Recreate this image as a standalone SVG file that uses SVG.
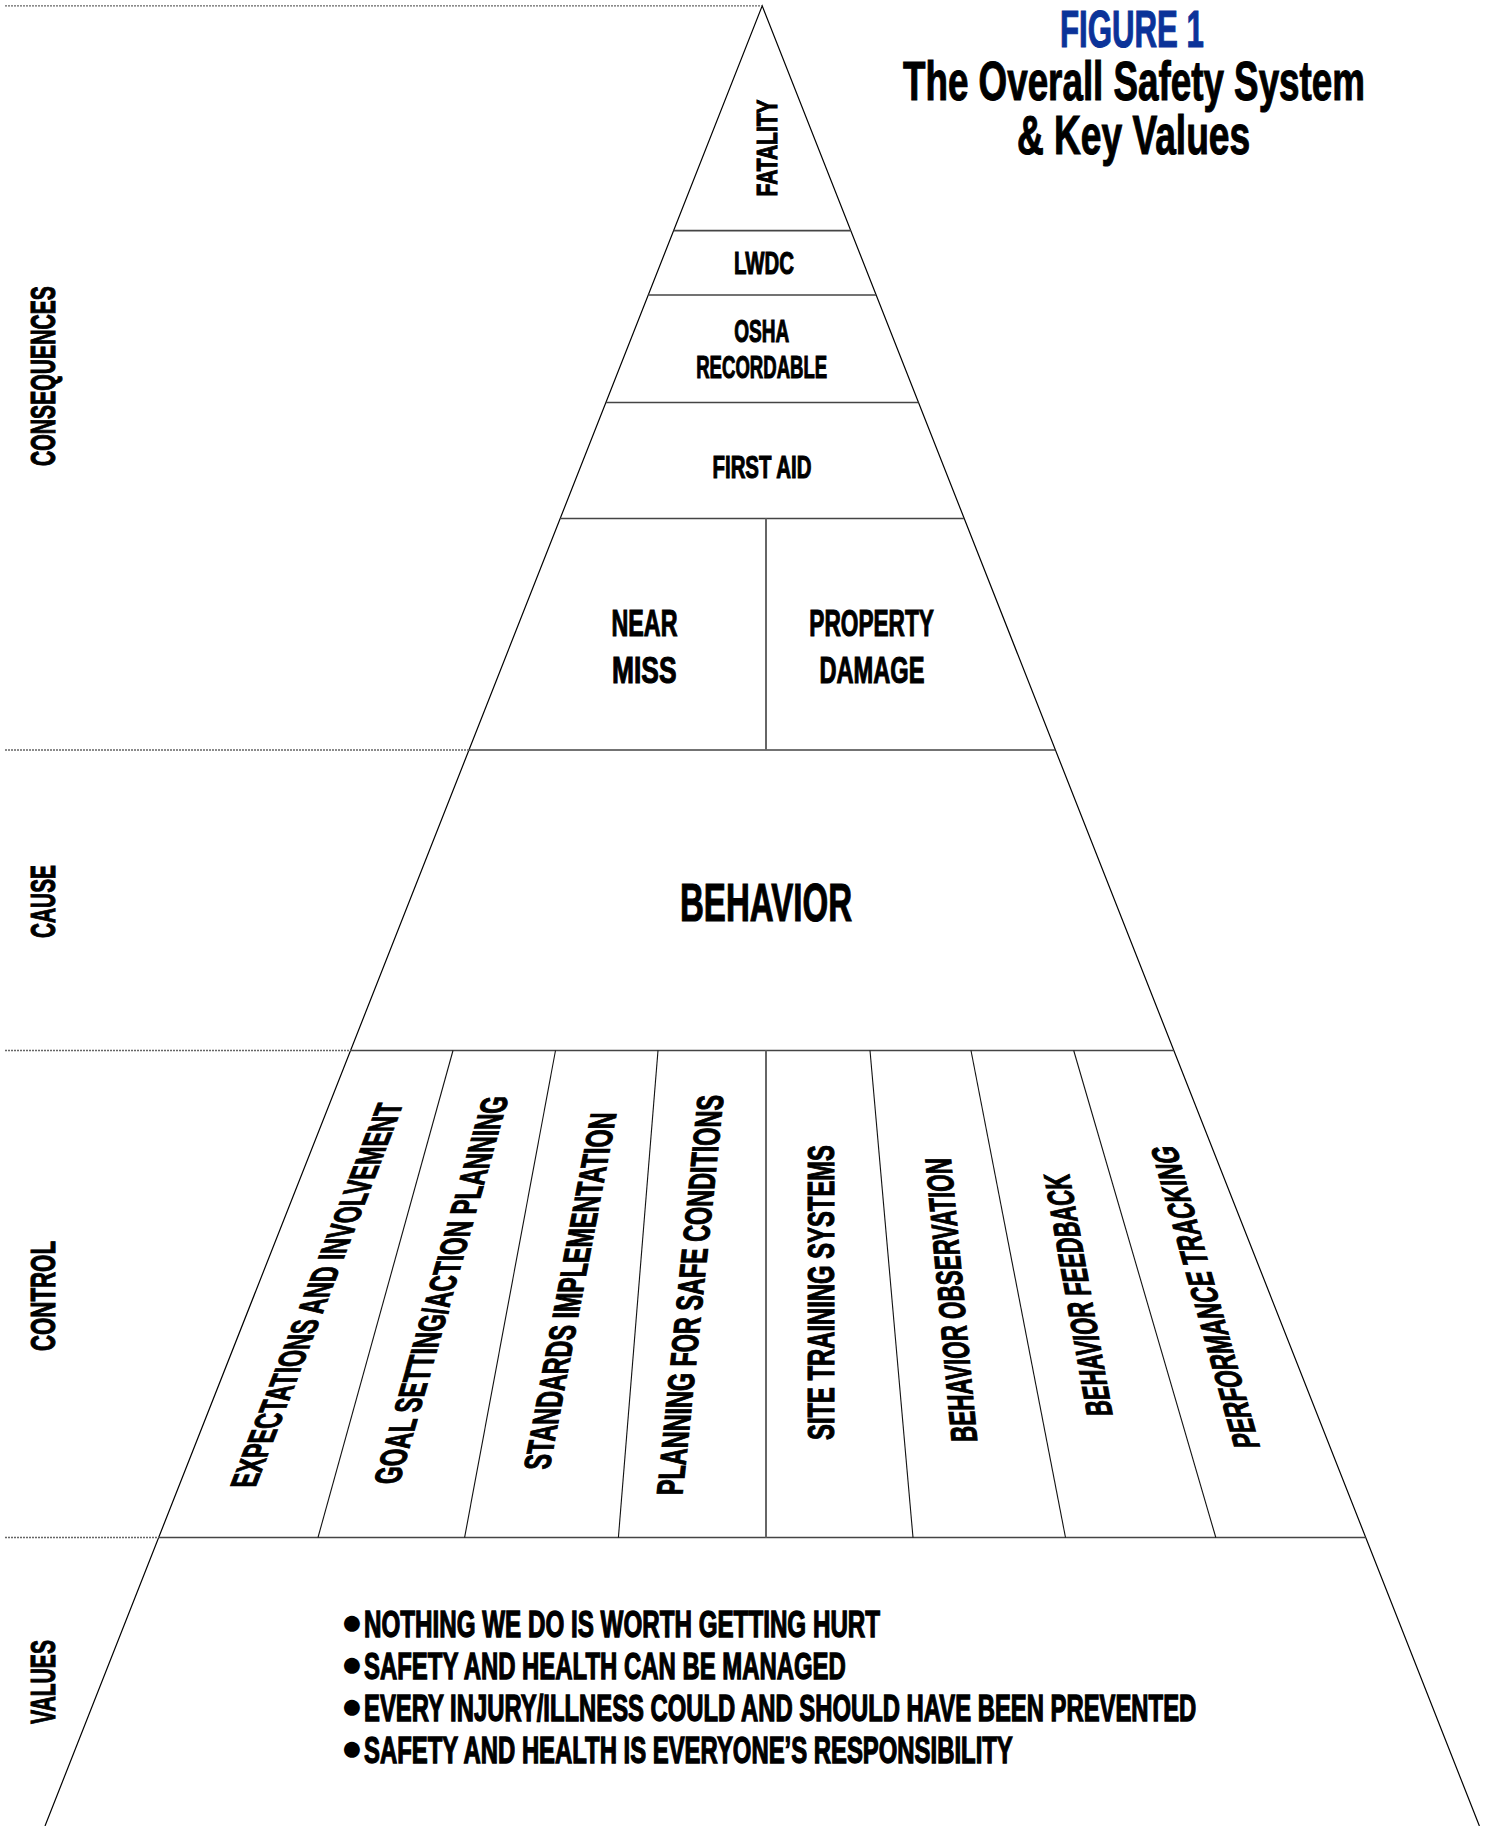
<svg xmlns="http://www.w3.org/2000/svg" width="1487" height="1826" viewBox="0 0 1487 1826">
<style>
.edge{stroke:#000;stroke-width:1.2;fill:none}
.hline{stroke:#444;stroke-width:1.7;fill:none}
.vdiv{stroke:#666;stroke-width:2;fill:none}
.div{stroke:#111;stroke-width:1.1;fill:none}
.guide{stroke:#666;stroke-width:1.3;stroke-dasharray:2 1;fill:none}
.t{font-family:"Liberation Sans",Arial,sans-serif;font-weight:bold;fill:#000;stroke:#000;stroke-width:1.1;text-anchor:middle}
.tl{font-family:"Liberation Sans",Arial,sans-serif;font-weight:bold;fill:#000;stroke:#000;stroke-width:1.3;text-anchor:start}
.bul{font-family:"Liberation Sans",Arial,sans-serif;fill:#000;text-anchor:middle}
.blue{fill:#0b3399;stroke:#0b3399}
</style>
<rect width="1487" height="1826" fill="#fff"/>

<g id="connectors">
  <polyline class="edge" points="45,1826 762.2,5.8 1479.4,1826"/>
  <line class="hline" x1="673.6" y1="230.7" x2="850.8" y2="230.7"/>
  <line class="hline" x1="648.3" y1="295" x2="876.1" y2="295"/>
  <line class="hline" x1="605.9" y1="402.5" x2="918.5" y2="402.5"/>
  <line class="hline" x1="560.2" y1="518.5" x2="964.2" y2="518.5"/>
  <line class="hline" x1="469" y1="750" x2="1055.4" y2="750"/>
  <line class="hline" x1="350.6" y1="1050.5" x2="1173.8" y2="1050.5"/>
  <line class="hline" x1="158.7" y1="1537.5" x2="1365.7" y2="1537.5"/>
  <line class="vdiv" x1="766" y1="518.5" x2="766" y2="750"/>
  <line class="div" x1="453" y1="1050.5" x2="318" y2="1537.5"/>
  <line class="div" x1="555.5" y1="1050.5" x2="464.6" y2="1537.5"/>
  <line class="div" x1="658" y1="1050.5" x2="618.4" y2="1537.5"/>
  <line class="vdiv" x1="766" y1="1050.5" x2="766" y2="1537.5"/>
  <line class="div" x1="870" y1="1050.5" x2="913" y2="1537.5"/>
  <line class="div" x1="971" y1="1050.5" x2="1065.5" y2="1537.5"/>
  <line class="div" x1="1073.7" y1="1050.5" x2="1215.8" y2="1537.5"/>
  <line class="guide" x1="5" y1="5.8" x2="762" y2="5.8"/>
  <line class="guide" x1="5" y1="750" x2="469" y2="750"/>
  <line class="guide" x1="5" y1="1050.5" x2="350.6" y2="1050.5"/>
  <line class="guide" x1="5" y1="1537.5" x2="158.7" y2="1537.5"/>
</g>

<g id="title">
  <text class="t" transform="scale(0.657,1)" font-size="56" stroke-width="1.8"><tspan class="blue" x="1723" y="47" font-size="51" textLength="219" lengthAdjust="spacingAndGlyphs">FIGURE 1</tspan><tspan x="1726" y="100" textLength="703" lengthAdjust="spacingAndGlyphs">The Overall Safety System</tspan><tspan x="1725.3" y="154" textLength="355" lengthAdjust="spacingAndGlyphs">&amp; Key Values</tspan></text>
</g>

<g id="label-consequences"><text class="t" transform="translate(42.5,376) rotate(-90)" x="0" y="12.5" font-size="35" textLength="180" lengthAdjust="spacingAndGlyphs">CONSEQUENCES</text></g>
<g id="label-cause"><text class="t" transform="translate(42.5,901.5) rotate(-90)" x="0" y="12.5" font-size="35" textLength="73" lengthAdjust="spacingAndGlyphs">CAUSE</text></g>
<g id="label-control"><text class="t" transform="translate(42.5,1296) rotate(-90)" x="0" y="12.5" font-size="35" textLength="110" lengthAdjust="spacingAndGlyphs">CONTROL</text></g>
<g id="label-values"><text class="t" transform="translate(42.5,1682) rotate(-90)" x="0" y="12.5" font-size="35" textLength="84" lengthAdjust="spacingAndGlyphs">VALUES</text></g>

<g id="fatality"><text class="t" transform="translate(766.5,148) rotate(-90)" x="0" y="10.5" font-size="29" textLength="97" lengthAdjust="spacingAndGlyphs">FATALITY</text></g>
<g id="lwdc"><text class="t" x="764" y="274" font-size="31" textLength="60" lengthAdjust="spacingAndGlyphs">LWDC</text></g>
<g id="osha-recordable">
  <text class="t" x="761.7" y="341.7" font-size="30.5" textLength="55" lengthAdjust="spacingAndGlyphs">OSHA</text>
  <text class="t" x="761.7" y="378.3" font-size="30.5" textLength="131" lengthAdjust="spacingAndGlyphs">RECORDABLE</text>
</g>
<g id="first-aid"><text class="t" x="762" y="478.3" font-size="30.5" textLength="99" lengthAdjust="spacingAndGlyphs">FIRST AID</text></g>
<g id="near-miss">
  <text class="t" x="644.5" y="636" font-size="36" textLength="66" lengthAdjust="spacingAndGlyphs">NEAR</text>
  <text class="t" x="644.3" y="683" font-size="36" textLength="64.5" lengthAdjust="spacingAndGlyphs">MISS</text>
</g>
<g id="property-damage">
  <text class="t" x="871.6" y="636" font-size="36" textLength="124.5" lengthAdjust="spacingAndGlyphs">PROPERTY</text>
  <text class="t" x="872" y="683" font-size="36" textLength="105" lengthAdjust="spacingAndGlyphs">DAMAGE</text>
</g>
<g id="behavior"><text class="t" x="766" y="920.7" font-size="53" stroke-width="1.6" textLength="172" lengthAdjust="spacingAndGlyphs">BEHAVIOR</text></g>

<g id="expectations"><text class="t" transform="translate(316.5,1295) skewX(-21.1) rotate(-90)" x="0" y="13" font-size="37" textLength="385" lengthAdjust="spacingAndGlyphs">EXPECTATIONS AND INVOLVEMENT</text></g>
<g id="goal-setting"><text class="t" transform="translate(441,1290) skewX(-15.8) rotate(-90)" x="0" y="13" font-size="37" textLength="388" lengthAdjust="spacingAndGlyphs">GOAL SETTING/ACTION PLANNING</text></g>
<g id="standards"><text class="t" transform="translate(570,1291) skewX(-10.7) rotate(-90)" x="0" y="13" font-size="37" textLength="357" lengthAdjust="spacingAndGlyphs">STANDARDS IMPLEMENTATION</text></g>
<g id="planning-safe"><text class="t" transform="translate(690,1295) skewX(-5.9) rotate(-90)" x="0" y="13" font-size="37" textLength="400" lengthAdjust="spacingAndGlyphs">PLANNING FOR SAFE CONDITIONS</text></g>
<g id="site-training"><text class="t" transform="translate(821,1292.5) rotate(-90)" x="0" y="13" font-size="37" textLength="295" lengthAdjust="spacingAndGlyphs">SITE TRAINING SYSTEMS</text></g>
<g id="behavior-observation"><text class="t" transform="translate(951,1300) skewX(5.3) rotate(-90)" x="0" y="13" font-size="37" textLength="284" lengthAdjust="spacingAndGlyphs">BEHAVIOR OBSERVATION</text></g>
<g id="behavior-feedback"><text class="t" transform="translate(1078,1295) skewX(10.2) rotate(-90)" x="0" y="13" font-size="37" textLength="242" lengthAdjust="spacingAndGlyphs">BEHAVIOR FEEDBACK</text></g>
<g id="performance-tracking"><text class="t" transform="translate(1205,1297) skewX(15.6) rotate(-90)" x="0" y="13" font-size="37" textLength="302" lengthAdjust="spacingAndGlyphs">PERFORMANCE TRACKING</text></g>

<g id="values">
  <text class="bul" x="352" y="1633.5" font-size="37">●</text>
  <text class="tl" transform="translate(364,1637) scale(0.66,1)" x="0" y="0" font-size="36" textLength="782" lengthAdjust="spacingAndGlyphs">NOTHING WE DO IS WORTH GETTING HURT</text>
  <text class="bul" x="352" y="1675.5" font-size="37">●</text>
  <text class="tl" transform="translate(364,1679) scale(0.66,1)" x="0" y="0" font-size="36" textLength="730" lengthAdjust="spacingAndGlyphs">SAFETY AND HEALTH CAN BE MANAGED</text>
  <text class="bul" x="352" y="1717.5" font-size="37">●</text>
  <text class="tl" transform="translate(364,1721) scale(0.66,1)" x="0" y="0" font-size="36" textLength="1261" lengthAdjust="spacingAndGlyphs">EVERY INJURY/ILLNESS COULD AND SHOULD HAVE BEEN PREVENTED</text>
  <text class="bul" x="352" y="1759.5" font-size="37">●</text>
  <text class="tl" transform="translate(364,1763) scale(0.66,1)" x="0" y="0" font-size="36" textLength="983" lengthAdjust="spacingAndGlyphs">SAFETY AND HEALTH IS EVERYONE’S RESPONSIBILITY</text>
</g>
</svg>
